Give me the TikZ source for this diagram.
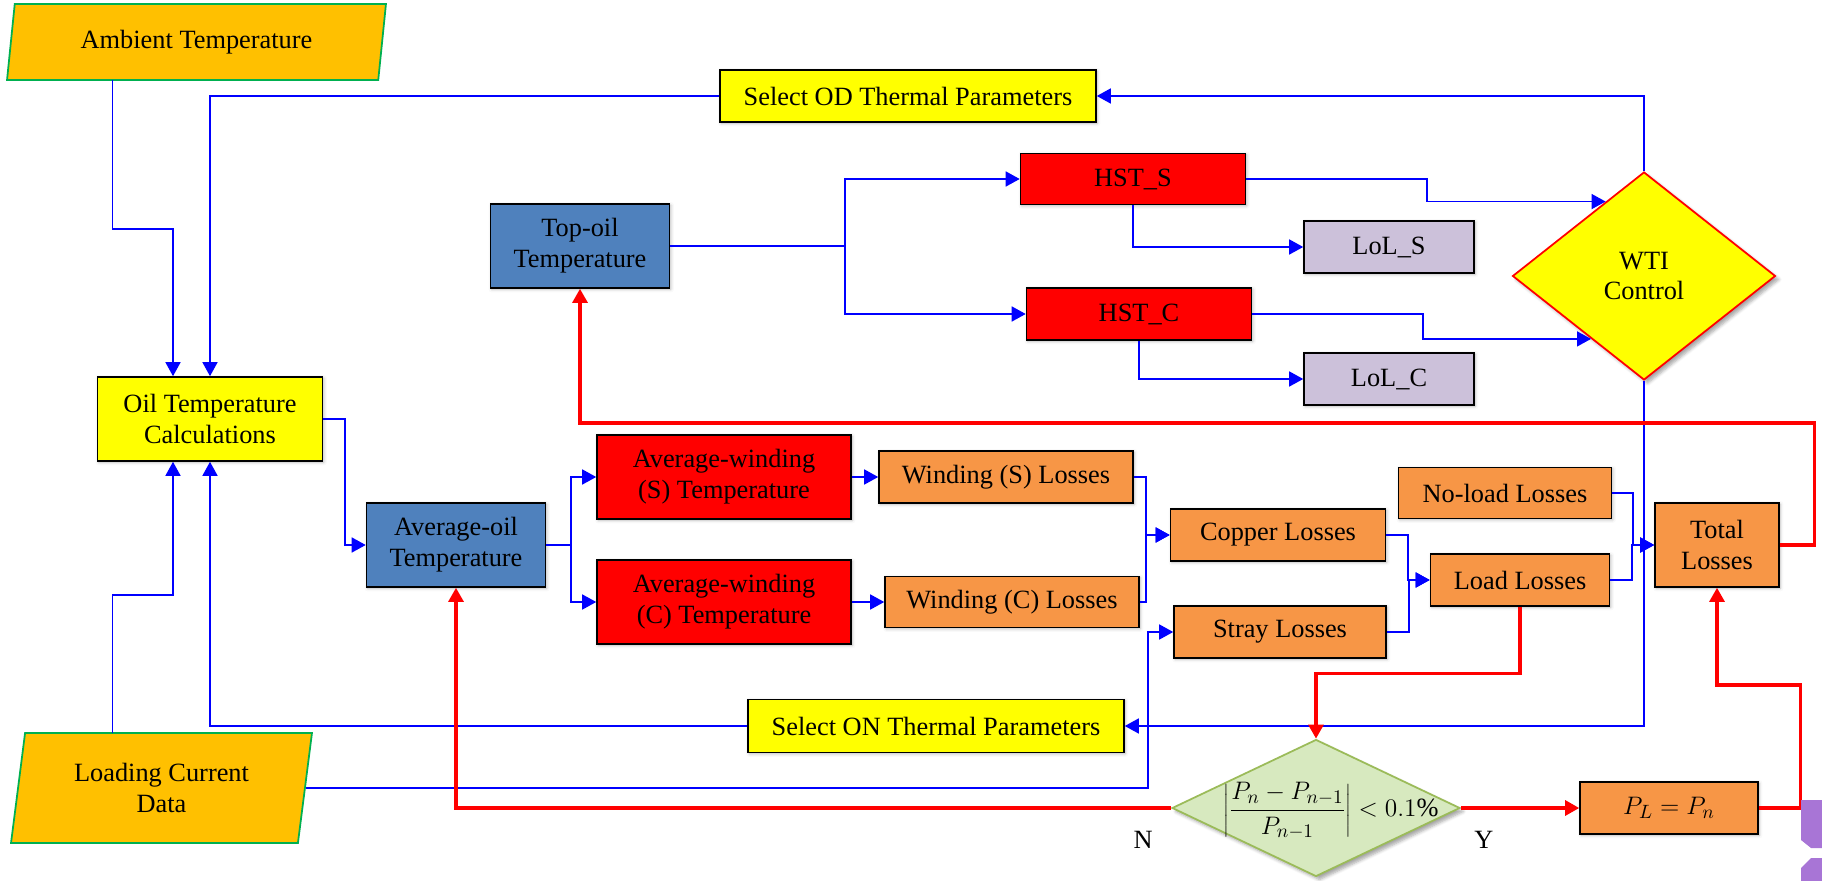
\documentclass[tikz,border=0pt]{standalone}
\usepackage{fontspec}
\setmainfont{Liberation Serif}
\usepackage{xcolor}
\definecolor{inputGold}{HTML}{FFC000}
\definecolor{inputGreen}{HTML}{00B050}
\definecolor{calcYellow}{HTML}{FFFF00}
\definecolor{oilBlue}{HTML}{4F81BD}
\definecolor{hotRed}{HTML}{FF0000}
\definecolor{lossOrange}{HTML}{F79646}
\definecolor{lolLilac}{HTML}{CCC1DA}
\definecolor{checkGreen}{HTML}{D7E9BF}
\definecolor{checkBorder}{HTML}{9BBB59}
\definecolor{flowBlue}{HTML}{0000FF}
\definecolor{cornerPurple}{HTML}{A875D6}
\usepackage{tikz}
\usetikzlibrary{
    shapes.geometric,
    arrows.meta,
    shadows.blur,
    calc
}
\tikzset{
    % Base style for all boxes
    base box/.style={
        rectangle,
        draw=black,
        line width=0.9pt,
        font=\fontsize{15}{17.5}\selectfont,
        align=center,
        text=black,
        inner sep=2pt,
        minimum height=1.04cm,
        blur shadow={
            shadow xshift=0.7pt,
            shadow yshift=-0.7pt,
            shadow blur steps=3,
            shadow opacity=30
        },
    },
    % Box colours
    yellow box/.style={base box, fill=calcYellow},
    blue box/.style={base box, fill=oilBlue, minimum width=3.58cm, minimum height=1.68cm},
    red box/.style={base box, fill=hotRed},
    orange box/.style={base box, fill=lossOrange},
    lilac box/.style={base box, fill=lolLilac, minimum width=3.4cm},
    % Input data - parallelogram
    io/.style={
        trapezium,
        trapezium left angle=76,
        trapezium right angle=104,
        trapezium stretches body,
        draw=inputGreen,
        line width=1pt,
        fill=inputGold,
        font=\fontsize{15}{17.5}\selectfont,
        align=center,
        inner sep=2pt,
    },
    % Decision diamonds
    decision/.style={
        diamond,
        line width=1pt,
        font=\fontsize{15}{17.5}\selectfont,
        align=center,
        inner sep=0pt,
        blur shadow={
            shadow xshift=2pt,
            shadow yshift=-2pt,
            shadow blur steps=5,
            shadow opacity=35
        },
    },
    % Connectors
    arrow/.style={
        -{Triangle[length=8pt, width=8.5pt]},
        line width=1.05pt,
        draw=flowBlue,
    },
    red arrow/.style={
        -{Triangle[length=8pt, width=8.5pt]},
        line width=1.8pt,
        draw=hotRed,
    },
    edge label/.style={
        font=\fontsize{15}{17.5}\selectfont,
        inner sep=0pt,
    },
}

\begin{document}
\begin{tikzpicture}[x=0.02cm, y=-0.02cm]
    \useasboundingbox (0,0) rectangle (1822,881);

    % inputs
    \node (amb) [io, minimum width=7.58cm, minimum height=1.52cm] at (196.5,42) {Ambient Temperature};
    \node (loading) [io, minimum width=6.02cm, minimum height=2.2cm] at (161.5,788) {Loading Current\\Data};

    % oil side
    \node (oilcalc) [yellow box, minimum width=4.5cm, minimum height=1.68cm] at (210,419) {Oil Temperature\\Calculations};
    \node (od) [yellow box, minimum width=7.52cm] at (908,96) {Select OD Thermal Parameters};
    \node (on) [yellow box, minimum width=7.52cm, minimum height=1.06cm] at (936,726) {Select ON Thermal Parameters};
    \node (topoil) [blue box] at (580,246) {Top-oil\\Temperature};
    \node (avgoil) [blue box] at (456,545) {Average-oil\\Temperature};

    % hot-spot and ageing
    \node (hsts) [red box, minimum width=4.5cm, minimum height=1.02cm] at (1133,179) {HST\_S};
    \node (hstc) [red box, minimum width=4.5cm] at (1139,314) {HST\_C};
    \node (lols) [lilac box] at (1389,247) {LoL\_S};
    \node (lolc) [lilac box] at (1389,379) {LoL\_C};
    \node (wti) [decision, draw=hotRed, fill=calcYellow, minimum width=5.26cm, minimum height=4.16cm] at (1644,276) {WTI\\Control};

    % windings and losses
    \node (avgws) [red box, minimum width=5.08cm, minimum height=1.68cm] at (724,477) {Average-winding\\(S) Temperature};
    \node (avgwc) [red box, minimum width=5.08cm, minimum height=1.68cm] at (724,602) {Average-winding\\(C) Temperature};
    \node (winds) [orange box, minimum width=5.08cm] at (1006,477) {Winding (S) Losses};
    \node (windc) [orange box, minimum width=5.08cm, minimum height=1.02cm] at (1012,602) {Winding (C) Losses};
    \node (copper) [orange box, minimum width=4.3cm] at (1278,535) {Copper Losses};
    \node (stray) [orange box, minimum width=4.24cm] at (1280,632) {Stray Losses};
    \node (noload) [orange box, minimum width=4.26cm, minimum height=1.02cm] at (1505,493) {No-load Losses};
    \node (load) [orange box, minimum width=3.58cm] at (1520,580) {Load Losses};
    \node (total) [orange box, minimum width=2.48cm, minimum height=1.68cm] at (1717,545) {Total\\Losses};

    % convergence check
    \node (conv) [decision, draw=checkBorder, fill=checkGreen, minimum width=5.76cm, minimum height=2.74cm,
        text height=0pt, text depth=0pt]
        at (1316,808) {\makebox[0pt]{\hspace{17pt}\raisebox{-5pt}{$\displaystyle\left|\frac{P_n-P_{n-1}}{P_{n-1}}\right| < 0.1\%$}}};
    \node (pl) [orange box, minimum width=3.56cm] at (1669,808) {$P_L = P_n$};
    \node (nlbl) [edge label] at ($(conv.west)+(-28,32)$) {N};
    \node (ylbl) [edge label] at ($(conv.east)+(23,32)$) {Y};

    % blue flow
    \draw [arrow] ($(amb.center)+(-84,38)$) -- ++(0,149) -| ($(oilcalc.north)+(-37,0)$);
    \draw [arrow] (od.west) -| (oilcalc.north);
    \draw [arrow] ($(loading.center)+(-49,-55)$) -- ++(0,-138) -| ($(oilcalc.south)+(-37,0)$);
    \draw [arrow] (on.west) -| (oilcalc.south);
    \draw [arrow] (oilcalc.east) -- ++(22,0) |- (avgoil.west);
    \draw [arrow] (avgoil.east) -- ++(25,0) |- (avgws.west);
    \draw [arrow] (avgoil.east) -- ++(25,0) |- (avgwc.west);
    \draw [arrow] (avgws.east) -- (winds.west);
    \draw [arrow] (avgwc.east) -- (windc.west);
    \draw [arrow] (winds.east) -- ++(12,0) |- (copper.west);
    \draw [arrow] (windc.east) -- ++(6,0) |- (copper.west);
    \draw [arrow] (loading.right side) -| ($(stray.west)+(-25,0)$) -- (stray.west);
    \draw [arrow] (copper.east) -- ++(22,0) |- (load.west);
    \draw [arrow] (stray.east) -- ++(22,0) |- (load.west);
    \draw [arrow] (noload.east) -- ++(21,0) |- (total.west);
    \draw [arrow] (load.east) -- ++(22,0) |- (total.west);
    \draw [arrow] (topoil.east) -- ++(175,0) |- (hsts.west);
    \draw [arrow] (topoil.east) -- ++(175,0) |- (hstc.west);
    \draw [arrow] (hsts.south) |- (lols.west);
    \draw [arrow] (hstc.south) |- (lolc.west);
    \draw [arrow] (hsts.east) -- ++(181,0) |- ($(wti.north)!0.29!(wti.west)$);
    \draw [arrow] (hstc.east) -- ++(171,0) |- ($(wti.west)!0.6!(wti.south)$);
    \draw [arrow] (wti.north) |- (od.east);
    \draw [arrow] (wti.south) |- (on.east);

    % red flow
    \draw [red arrow] (total.east) -- ++(35,0) -- ++(0,-122) -| (topoil.south);
    \draw [red arrow] (load.south) -- ++(0,67) -| (conv.north);
    \draw [red arrow] (conv.east) -- (pl.west);
    \draw [red arrow] (pl.east) -- ++(42,0) -- ++(0,-123) -| (total.south);
    \draw [red arrow] (conv.west) -| (avgoil.south);

    % corner fragment
    \fill [cornerPurple] (1801,800) -- (1822,800) -- (1822,848) -- (1811,848) -- (1801,840) -- cycle;
    \fill [cornerPurple] (1801,881) -- (1822,881) -- (1822,858) -- (1811,858) -- (1801,868) -- cycle;
\end{tikzpicture}
\end{document}
